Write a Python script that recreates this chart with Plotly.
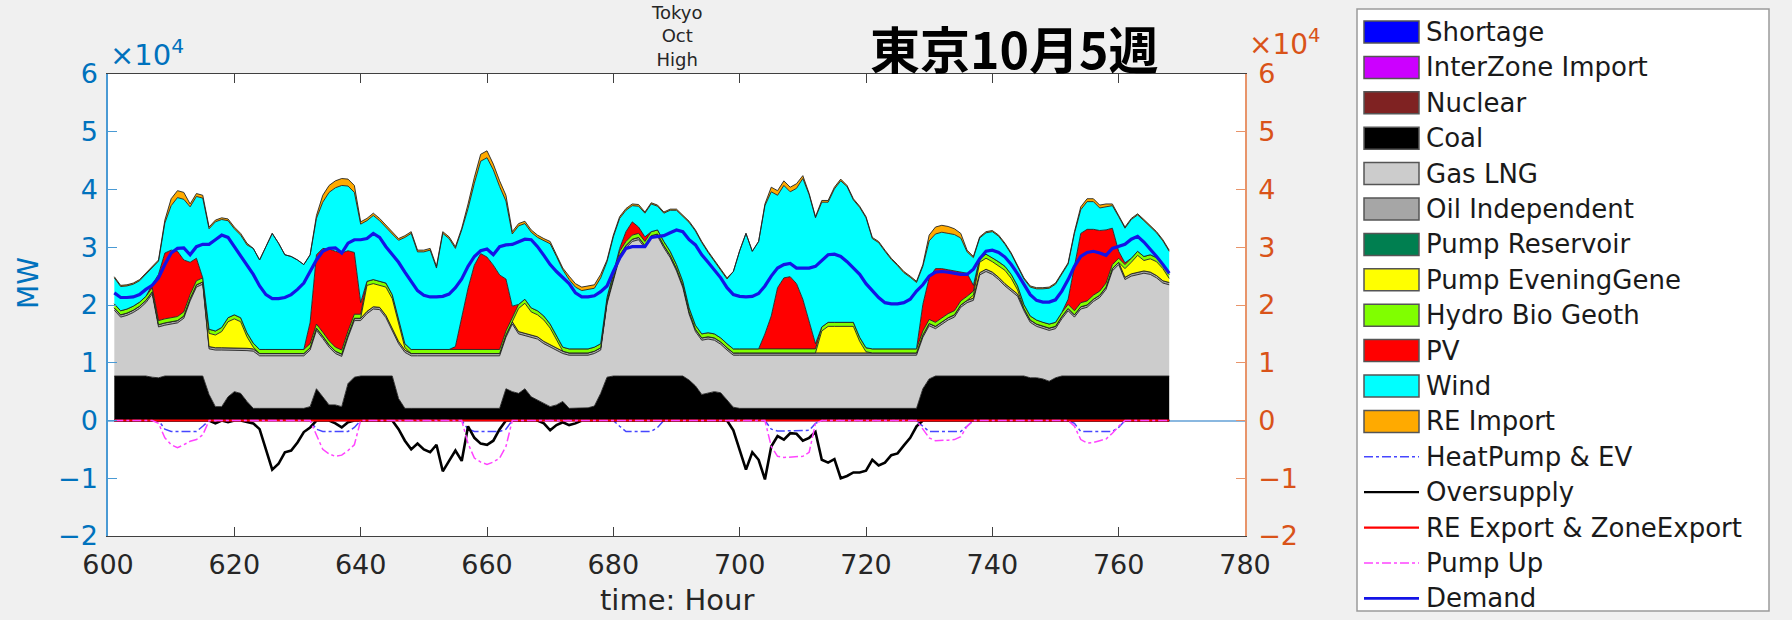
import plotly.graph_objects as go

# ---------------- data (MW), hours 601..768 ----------------
hours = list(range(601, 769))

shortage = [0] * 168
interzone_import = [0] * 168
nuclear = [0] * 168
pump_reservoir = [0] * 168
re_export = [0] * 168

coal = [
    7700, 7700, 7700, 7700, 7700, 7700, 7500, 7400, 7700, 7700, 7700, 7700, 7700, 7700, 7700, 4500, 2400, 2400, 4100, 5000, 4700, 3300, 2100, 2100,
    2100, 2100, 2100, 2100, 2100, 2100, 2100, 2400, 5500, 4100, 2700, 2700, 2400, 6400, 7500, 7700, 7700, 7700, 7700, 7700, 7700, 3800, 2100, 2100,
    2100, 2100, 2100, 2100, 2100, 2100, 2100, 2100, 2100, 2100, 2100, 2100, 2100, 2100, 5500, 5000, 4700, 5500, 4100, 3500, 3000, 2400, 2700, 3300,
    2100, 2100, 2100, 2200, 2500, 4700, 7500, 7700, 7700, 7700, 7700, 7700, 7700, 7700, 7700, 7700, 7700, 7700, 7700, 7000, 6000, 4500, 4700, 5000,
    4800, 3600, 2300, 2100, 2100, 2100, 2100, 2100, 2100, 2100, 2100, 2100, 2100, 2100, 2100, 2100, 2100, 2100, 2100, 2100, 2100, 2100, 2100, 2100,
    2100, 2100, 2100, 2100, 2100, 2100, 2100, 2100, 5500, 7200, 7700, 7700, 7700, 7700, 7700, 7700, 7700, 7700, 7700, 7700, 7700, 7700, 7700, 7700,
    7700, 7400, 7400, 7200, 6800, 7400, 7700, 7700, 7700, 7700, 7700, 7700, 7700, 7700, 7700, 7700, 7700, 7700, 7700, 7700, 7700, 7700, 7700, 7700,
]

gas_lng = [
    11400, 10200, 10500, 11000, 11700, 12700, 14400, 8800, 8800, 9000, 9200, 10000, 13000, 15400, 15900, 7900, 9800, 9800, 8100, 7200, 7500, 8800, 9900, 9100,
    9100, 9100, 9100, 9100, 9100, 9100, 9100, 9800, 10100, 10100, 10000, 8900, 8700, 8000, 9800, 9600, 10800, 11600, 11500, 10100, 7800, 9500, 9700, 9100,
    9100, 9100, 9100, 9100, 9100, 9100, 9100, 9100, 9100, 9100, 9100, 9100, 9100, 9100, 8900, 11700, 10300, 9200, 10300, 10600, 10300, 10300, 9400, 8300,
    9200, 9200, 9200, 9100, 9100, 7500, 12700, 16500, 20500, 22200, 23300, 23600, 22200, 23900, 24200, 22200, 20500, 18200, 15300, 11400, 9400, 9400, 9400, 8900,
    8400, 8600, 9000, 9200, 9200, 9200, 9200, 9200, 9200, 9200, 9200, 9200, 9200, 9200, 9200, 9200, 9200, 9200, 9200, 9200, 9200, 9200, 9200, 9200,
    9200, 9200, 9200, 9200, 9200, 9200, 9200, 9200, 8900, 9200, 8200, 9000, 9700, 10200, 11900, 12700, 13100, 17500, 18100, 17600, 16700, 15600, 14700, 13800,
    11300, 9600, 8900, 8700, 8800, 8500, 9900, 11300, 10200, 11600, 11900, 12900, 13600, 15000, 18200, 19300, 16700, 17300, 17600, 17800, 17600, 17000, 16100, 15800,
]

oil_independent = [
    400, 400, 400, 400, 400, 400, 400, 400, 400, 400, 400, 400, 400, 400, 400, 400, 400, 400, 400, 400, 400, 400, 400, 400,
    400, 400, 400, 400, 400, 400, 400, 400, 400, 400, 400, 400, 400, 400, 400, 400, 400, 400, 400, 400, 400, 400, 400, 400,
    400, 400, 400, 400, 400, 400, 400, 400, 400, 400, 400, 400, 400, 400, 400, 400, 400, 400, 400, 400, 400, 400, 400, 400,
    400, 400, 400, 400, 400, 400, 400, 400, 400, 400, 400, 400, 400, 400, 400, 400, 400, 400, 400, 400, 400, 400, 400, 400,
    400, 400, 400, 400, 400, 400, 400, 400, 400, 400, 400, 400, 400, 400, 400, 400, 400, 400, 400, 400, 400, 400, 400, 400,
    400, 400, 400, 400, 400, 400, 400, 400, 400, 400, 400, 400, 400, 400, 400, 400, 400, 400, 400, 400, 400, 400, 400, 400,
    400, 400, 400, 400, 400, 400, 400, 400, 400, 400, 400, 400, 400, 400, 400, 400, 400, 400, 400, 400, 400, 400, 400, 400,
]

pump_evening = [
    0, 0, 0, 0, 0, 0, 0, 0, 0, 0, 0, 0, 0, 0, 0, 2300, 2200, 2800, 4500, 5000, 4500, 2000, 300, 0,
    0, 0, 0, 0, 0, 0, 0, 0, 0, 0, 0, 0, 0, 0, 0, 0, 4500, 4000, 3800, 4900, 5200, 2900, 400, 0,
    0, 0, 0, 0, 0, 0, 0, 0, 0, 0, 0, 0, 0, 0, 0, 0, 4000, 5200, 4000, 3800, 3700, 2900, 1500, 0,
    0, 0, 0, 0, 0, 0, 0, 0, 0, 0, 0, 0, 0, 0, 0, 0, 0, 0, 0, 0, 0, 0, 0, 0,
    0, 0, 0, 0, 0, 0, 0, 0, 0, 0, 0, 0, 0, 0, 0, 0, 3800, 4600, 4600, 4600, 4600, 4600, 2000, 200,
    0, 0, 0, 0, 0, 0, 0, 0, 0, 0, 0, 0, 0, 0, 0, 0, 500, 1800, 1900, 1800, 2000, 2300, 1800, 700,
    0, 0, 0, 0, 0, 0, 0, 0, 0, 0, 0, 0, 0, 0, 0, 0, 1500, 2000, 2900, 1800, 2300, 2400, 2100, 700,
]

hydro_bio_geoth = [
    700, 700, 700, 700, 700, 700, 700, 700, 700, 700, 700, 700, 700, 700, 700, 700, 700, 700, 700, 700, 700, 700, 700, 700,
    700, 700, 700, 700, 700, 700, 700, 700, 700, 700, 700, 700, 700, 700, 700, 700, 700, 700, 700, 700, 700, 700, 700, 700,
    700, 700, 700, 700, 700, 700, 700, 700, 700, 700, 700, 700, 700, 700, 700, 700, 700, 700, 700, 700, 700, 700, 700, 700,
    700, 700, 700, 700, 700, 700, 700, 700, 700, 700, 700, 700, 700, 700, 700, 700, 700, 700, 700, 700, 700, 700, 700, 700,
    700, 700, 700, 700, 700, 700, 700, 700, 700, 700, 700, 700, 700, 700, 700, 700, 700, 700, 700, 700, 700, 700, 700, 700,
    700, 700, 700, 700, 700, 700, 700, 700, 700, 700, 700, 700, 700, 700, 700, 700, 700, 700, 700, 700, 700, 700, 700, 700,
    700, 700, 700, 700, 700, 700, 700, 700, 700, 700, 700, 700, 700, 700, 700, 700, 700, 700, 700, 700, 700, 700, 700, 700,
]

pv = [
    0, 0, 0, 0, 0, 0, 500, 8000, 11400, 11700, 11300, 9000, 5600, 3900, 0, 0, 0, 0, 0, 0, 0, 0, 0, 0,
    0, 0, 0, 0, 0, 0, 0, 3700, 12000, 14500, 15900, 16600, 16800, 13900, 10700, 2000, 0, 0, 0, 0, 0, 0, 0, 0,
    0, 0, 0, 0, 0, 0, 500, 5400, 10600, 14600, 16600, 16000, 14600, 12900, 9000, 2000, 0, 0, 0, 0, 0, 0, 0, 0,
    0, 0, 0, 0, 0, 0, 0, 0, 500, 1700, 2300, 1100, 800, 0, 0, 0, 0, 0, 0, 0, 0, 0, 0, 0,
    0, 0, 0, 0, 0, 0, 0, 2600, 5700, 10600, 12300, 12500, 11300, 8600, 4600, 900, 0, 0, 0, 0, 0, 0, 0, 0,
    0, 0, 0, 0, 0, 0, 0, 0, 4600, 7200, 9300, 8500, 7600, 6900, 5100, 4000, 1000, 0, 0, 0, 0, 0, 0, 0,
    0, 0, 0, 0, 0, 0, 0, 900, 8000, 12000, 12400, 11400, 10500, 9200, 6300, 1200, 300, 0, 0, 0, 0, 0, 0, 0,
]

wind = [
    4500, 4200, 4000, 3800, 3700, 3800, 3000, 2300, 5200, 7700, 9300, 10500, 9600, 10700, 13800, 17400, 18900, 18700, 16800, 14900, 14300, 15200, 16400, 15500,
    17800, 20100, 18400, 16400, 16100, 15500, 14700, 11700, 6300, 8000, 9800, 11000, 11700, 11200, 10400, 13600, 10500, 11100, 10500, 9600, 10500, 13900, 18400, 20100,
    16900, 16900, 17200, 14100, 20100, 19200, 17000, 15300, 13800, 14200, 16000, 17200, 16500, 15300, 13500, 12500, 13600, 13100, 13100, 12700, 13000, 13900, 13700, 13400,
    12000, 10700, 10100, 10300, 10200, 11400, 6200, 6500, 5200, 3700, 2800, 3600, 4100, 4800, 4100, 4900, 7100, 9400, 11200, 14800, 16300, 15800, 13900, 12600,
    11900, 11200, 13400, 17000, 20000, 16900, 18600, 22200, 21500, 16000, 16000, 14700, 16500, 20900, 22100, 21800, 21600, 20800, 23100, 24500, 23500, 21200, 22500, 22500,
    19100, 18400, 16900, 15500, 14400, 13200, 12400, 11500, 6600, 6400, 6000, 6300, 6300, 6300, 5800, 3700, 4800, 3500, 3700, 4500, 4400, 3800, 3500, 3200,
    4400, 5000, 5400, 5800, 6200, 6600, 6600, 6100, 5400, 4100, 4800, 4800, 3900, 4000, 3900, 6000, 6000, 6700, 6300, 6200, 4900, 4300, 4100, 4000,
]

re_import = [
    200, 200, 200, 200, 200, 200, 200, 200, 500, 1200, 1200, 1200, 500, 500, 500, 300, 300, 300, 300, 300, 300, 300, 0, 0,
    0, 0, 0, 0, 0, 0, 0, 0, 500, 1200, 1200, 1200, 1200, 1200, 1200, 400, 400, 400, 400, 400, 400, 300, 300, 300,
    300, 300, 300, 300, 300, 300, 300, 300, 800, 1000, 1200, 1200, 1000, 1000, 1000, 400, 400, 400, 400, 400, 400, 400, 300, 300,
    600, 600, 600, 600, 600, 600, 300, 300, 300, 300, 300, 300, 200, 200, 200, 200, 200, 200, 200, 200, 200, 200, 200, 200,
    200, 200, 0, 0, 0, 0, 0, 300, 800, 800, 800, 800, 800, 500, 200, 200, 300, 300, 300, 300, 200, 200, 200, 200,
    200, 200, 200, 200, 200, 200, 200, 200, 300, 1000, 1200, 1200, 1200, 1000, 800, 300, 200, 200, 200, 200, 200, 200, 200, 200,
    200, 200, 200, 200, 200, 200, 200, 200, 300, 500, 500, 500, 500, 500, 300, 200, 200, 200, 200, 200, 200, 200, 200, 200,
]

demand = [
    22100, 21300, 21300, 21400, 21800, 22700, 23400, 24700, 27000, 29000, 29800, 29900, 28700, 30100, 30500, 30500, 31300, 32100, 31700, 30100, 28400, 27000, 25300, 23300,
    21800, 21100, 21100, 21300, 21800, 22700, 23800, 25800, 27800, 29300, 29800, 29900, 29000, 30700, 31300, 31300, 31500, 32400, 31700, 30100, 28700, 27400, 25700, 24100,
    22500, 21700, 21400, 21400, 21500, 21900, 23000, 24500, 26700, 28400, 29400, 29700, 28700, 30100, 30400, 30500, 31000, 31400, 31300, 30100, 28600, 27000, 25800, 24700,
    23700, 22100, 21400, 21400, 21600, 22300, 23300, 25800, 28100, 29800, 30100, 30100, 30100, 31700, 31800, 32000, 32500, 33000, 32700, 31300, 30400, 28700, 27400, 26100,
    24700, 23000, 21800, 21500, 21400, 21500, 22000, 23300, 25000, 26400, 27000, 27200, 26400, 26400, 26400, 26700, 27700, 28700, 28800, 28400, 27500, 26400, 25300, 23700,
    22400, 21300, 20400, 20200, 20200, 20400, 21000, 22400, 23500, 25000, 25700, 25800, 25700, 25500, 25300, 25300, 26200, 28000, 29300, 29500, 29100, 28300, 27000, 25400,
    23500, 21800, 20800, 20500, 20500, 20900, 22400, 24400, 26700, 28400, 29100, 29300, 29000, 28600, 29800, 30100, 30500, 31400, 31900, 30900, 29700, 28400, 27000, 25500,
]

heatpump_ev = [
    0, 0, 0, 0, 0, 0, 0, 0, -1500, -1900, -1900, -1900, -1900, -1900, -1000, 0, 0, 0, 0, 0, 0, 0, 0, 0,
    0, 0, 0, 0, 0, 0, 0, 0, -1500, -1900, -1900, -1900, -1900, -1900, -1200, 0, 0, 0, 0, 0, 0, 0, 0, 0,
    0, 0, 0, 0, 0, 0, 0, 0, -1500, -1900, -1900, -1900, -1900, -1900, -1500, 0, 0, 0, 0, 0, 0, 0, 0, 0,
    0, 0, 0, 0, 0, 0, 0, 0, -1000, -1900, -1900, -1900, -1900, -1900, -1200, 0, 0, 0, 0, 0, 0, 0, 0, 0,
    0, 0, 0, 0, 0, 0, 0, 0, -1500, -1800, -1800, -1800, -1800, -1800, -1700, -500, 0, 0, 0, 0, 0, 0, 0, 0,
    0, 0, 0, 0, 0, 0, 0, 0, -1000, -1900, -1900, -1900, -1900, -1900, -1900, -1000, 0, 0, 0, 0, 0, 0, 0, 0,
    0, 0, 0, 0, 0, 0, 0, 0, -500, -1900, -1900, -1900, -1900, -1900, -1900, -1200, 0, 0, 0, 0, 0, 0, 0, 0,
]

oversupply = [
    0, 0, 0, 0, 0, 0, 0, 0, 0, 0, 0, 0, 0, 0, 0, 0, -500, 0, -300, 0, 0, -200, -500, -1500,
    -5000, -8500, -7500, -5500, -5200, -3800, -2000, -1200, 0, 0, 0, -500, -1200, -300, 0, 0, 0, 0, 0, 0, 0, -1500, -3500, -5000,
    -4000, -5000, -5500, -4200, -8800, -7000, -5200, -7000, -1000, -3000, -4000, -4200, -3500, -1500, 0, 0, 0, 0, 0, 0, -500, -1700, -800, -300,
    -800, -500, 0, 0, 0, 0, 0, 0, 0, 0, 0, 0, 0, 0, 0, 0, 0, 0, 0, 0, 0, 0, 0, 0,
    0, 0, -1700, -5000, -8500, -5500, -6800, -10200, -4500, -2700, -3300, -2200, -2300, -3500, -3000, -2000, -6800, -7300, -6700, -10000, -9600, -9000, -9000, -8700,
    -6800, -7800, -7300, -6000, -5700, -4300, -3000, -1000, 0, 0, 0, 0, 0, 0, 0, 0, 0, 0, 0, 0, 0, 0, 0, 0,
    0, 0, 0, 0, 0, 0, 0, 0, 0, 0, 0, 0, 0, 0, 0, 0, 0, 0, 0, 0, 0, 0, 0, 0,
]

pump_up = [
    0, 0, 0, 0, 0, 0, 0, -500, -3000, -4200, -4700, -4200, -3600, -3300, -2500, 0, 0, 0, 0, 0, 0, 0, 0, 0,
    0, 0, 0, 0, 0, 0, 0, 0, -2500, -5000, -5800, -6200, -6000, -5200, -4200, 0, 0, 0, 0, 0, 0, 0, 0, 0,
    0, 0, 0, 0, 0, 0, 0, 0, -4000, -6500, -7200, -7600, -7200, -6500, -4500, 0, 0, 0, 0, 0, 0, 0, 0, 0,
    0, 0, 0, 0, 0, 0, 0, 0, 0, 0, 0, 0, 0, 0, 0, 0, 0, 0, 0, 0, 0, 0, 0, 0,
    0, 0, 0, 0, 0, 0, 0, 0, -4500, -6200, -6400, -6300, -6300, -6200, -5500, -500, 0, 0, 0, 0, 0, 0, 0, 0,
    0, 0, 0, 0, 0, 0, 0, 0, -1500, -3000, -3500, -3500, -3400, -3300, -2800, -1000, 0, 0, 0, 0, 0, 0, 0, 0,
    0, 0, 0, 0, 0, 0, 0, 0, -1000, -3300, -3900, -3800, -3500, -3200, -2200, -1000, 0, 0, 0, 0, 0, 0, 0, 0,
]

x_tick_values = [600, 620, 640, 660, 680, 700, 720, 740, 760, 780]
y_tick_values = [-20000, -10000, 0, 10000, 20000, 30000, 40000, 50000, 60000]
y_tick_labels = ["\u22122", "\u22121", "0", "1", "2", "3", "4", "5", "6"]

for arr in [coal, gas_lng, oil_independent, pump_evening, hydro_bio_geoth, pv, wind,
            re_import, demand, heatpump_ev, oversupply, pump_up]:
    assert len(arr) == 168, len(arr)

# ---------------- figure ----------------
FONT = "DejaVu Sans"
BLUE_AX = "#0072BD"
ORANGE_AX = "#D95319"
EDGE = "#222222"

L, R, T, B = 108, 547, 74, 84
W, H = 1792, 620
pw = W - L - R
ph = H - T - B


def px(xpix):
    return (xpix - L) / pw


def py(ypix):
    return (H - B - ypix) / ph


fig = go.Figure()

areas = [
    ("Shortage", shortage, "#0000ff"),
    ("InterZone Import", interzone_import, "#cc00ff"),
    ("Nuclear", nuclear, "#7f2222"),
    ("Coal", coal, "#000000"),
    ("Gas LNG", gas_lng, "#cccccc"),
    ("Oil Independent", oil_independent, "#a6a6a6"),
    ("Pump Reservoir", pump_reservoir, "#007f50"),
    ("Pump EveningGene", pump_evening, "#ffff00"),
    ("Hydro Bio Geoth", hydro_bio_geoth, "#80ff00"),
    ("PV", pv, "#ff0000"),
    ("Wind", wind, "#00ffff"),
    ("RE Import", re_import, "#ffaa00"),
]
for name, vals, col in areas:
    fig.add_trace(go.Scatter(
        x=hours, y=vals, name=name, mode="lines", stackgroup="supply",
        line=dict(color=EDGE, width=0.9), fillcolor=col, showlegend=False,
    ))

lines = [
    ("HeatPump & EV", heatpump_ev, "#4646ff", 1.5, "dashdot", "y", 1.5),
    ("Oversupply", oversupply, "#000000", 2.6, "solid", "y", 2.2),
    ("RE Export & ZoneExport", re_export, "#ff0000", 2.0, "solid", "y2", 2.2),
    ("Pump Up", pump_up, "#ff44ff", 1.5, "dashdot", "y2", 1.5),
    ("Demand", demand, "#1414e6", 3.2, "solid", "y2", 2.6),
]
for name, vals, col, wd, dash, yax, _ in lines:
    fig.add_trace(go.Scatter(x=hours, y=vals, name=name, mode="lines", yaxis=yax,
                             line=dict(color=col, width=wd, dash=dash), showlegend=False))

# ---------------- hand-drawn legend (MATLAB style boxes) ----------------
LEG_X0, LEG_X1, LEG_Y0, LEG_Y1 = 1357, 1769, 9, 611
ENTRY_Y0, ENTRY_STEP = 32, 35.4
SW_X0, SW_X1, SW_H = 1364, 1419, 22
TXT_X = 1424

shapes = [dict(type="rect", xref="paper", yref="paper", layer="above",
               x0=px(LEG_X0), x1=px(LEG_X1), y0=py(LEG_Y1), y1=py(LEG_Y0),
               line=dict(color="#9a9a9a", width=1.5), fillcolor="#ffffff")]
legend_annotations = []
entries = [(n, "area", c, None, None) for n, _, c in areas] + \
          [(n, "line", c, lw, d) for n, _, c, _, d, _, lw in lines]
for i, (name, kind, col, lw, dash) in enumerate(entries):
    yc = ENTRY_Y0 + ENTRY_STEP * i
    if kind == "area":
        shapes.append(dict(type="rect", xref="paper", yref="paper", layer="above",
                           x0=px(SW_X0), x1=px(SW_X1), y0=py(yc + SW_H / 2), y1=py(yc - SW_H / 2),
                           line=dict(color="#555555", width=1.5), fillcolor=col))
    else:
        shapes.append(dict(type="line", xref="paper", yref="paper", layer="above",
                           x0=px(SW_X0), x1=px(SW_X1), y0=py(yc), y1=py(yc),
                           line=dict(color=col, width=lw, dash=dash)))
    legend_annotations.append(dict(
        text=name, xref="paper", yref="paper", x=px(TXT_X), y=py(yc),
        xanchor="left", yanchor="middle", showarrow=False,
        font=dict(family=FONT, size=26, color="#1a1a1a")))

fig.update_layout(
    width=W, height=H, autosize=False,
    margin=dict(l=L, r=R, t=T, b=B, pad=0),
    paper_bgcolor="#f0f0f0", plot_bgcolor="#ffffff",
    font=dict(family=FONT, color="#262626"),
    showlegend=False,
    xaxis=dict(
        range=[600, 780], tickvals=x_tick_values, ticks="inside", ticklen=9,
        tickcolor="#404040", showline=True, linecolor="#404040", linewidth=1.2,
        mirror="ticks", showgrid=False, zeroline=False, ticklabelstandoff=4,
        tickfont=dict(family=FONT, size=27, color="#262626"),
    ),
    yaxis=dict(
        range=[-20000, 60000], tickvals=y_tick_values, ticktext=y_tick_labels,
        ticks="inside", ticklen=9, tickcolor="#4a9ad4", showline=True,
        linecolor="#4a9ad4", linewidth=1.5, showgrid=False,
        zeroline=True, zerolinecolor="#8ab8e0", zerolinewidth=1.5,
        ticklabelstandoff=3,
        tickfont=dict(family=FONT, size=27, color=BLUE_AX),
    ),
    yaxis2=dict(
        range=[-20000, 60000], tickvals=y_tick_values, ticktext=y_tick_labels,
        overlaying="y", side="right", ticks="inside", ticklen=9,
        tickcolor="#e8946a", showline=True, linecolor="#e8946a", linewidth=1.5,
        showgrid=False, zeroline=False, ticklabelstandoff=6,
        tickfont=dict(family=FONT, size=27, color=ORANGE_AX),
    ),
    shapes=shapes,
    annotations=[
        dict(text="\u00d710<sup>4</sup>", xref="paper", yref="paper", x=0, y=1,
             xanchor="left", yanchor="bottom", showarrow=False, yshift=0,
             font=dict(family=FONT, size=29, color=BLUE_AX)),
        dict(text="\u00d710<sup>4</sup>", xref="paper", yref="paper", x=1, y=1,
             xanchor="left", yanchor="bottom", showarrow=False, xshift=2, yshift=11,
             font=dict(family=FONT, size=28, color=ORANGE_AX)),
        dict(text="Tokyo<br>Oct<br>High", xref="paper", yref="paper", x=0.5, y=py(0),
             xanchor="center", yanchor="top", showarrow=False,
             font=dict(family=FONT, size=18, color="#262626")),
        dict(text="<b>東京10月5週</b>", xref="paper", yref="paper", x=px(1014), y=py(47),
             xanchor="center", yanchor="middle", showarrow=False,
             font=dict(family="Noto Sans CJK JP", size=50, color="#000000")),
        dict(text="MW", xref="paper", yref="paper", x=px(28), y=py(283),
             xanchor="center", yanchor="middle", showarrow=False, textangle=-90,
             font=dict(family=FONT, size=28, color=BLUE_AX)),
        dict(text="time: Hour", xref="paper", yref="paper", x=px(677), y=py(600),
             xanchor="center", yanchor="middle", showarrow=False,
             font=dict(family=FONT, size=29, color="#262626")),
    ] + legend_annotations,
)

fig.write_html("out.html", config={"displayModeBar": False},
               post_script="document.body.style.margin='0';")
